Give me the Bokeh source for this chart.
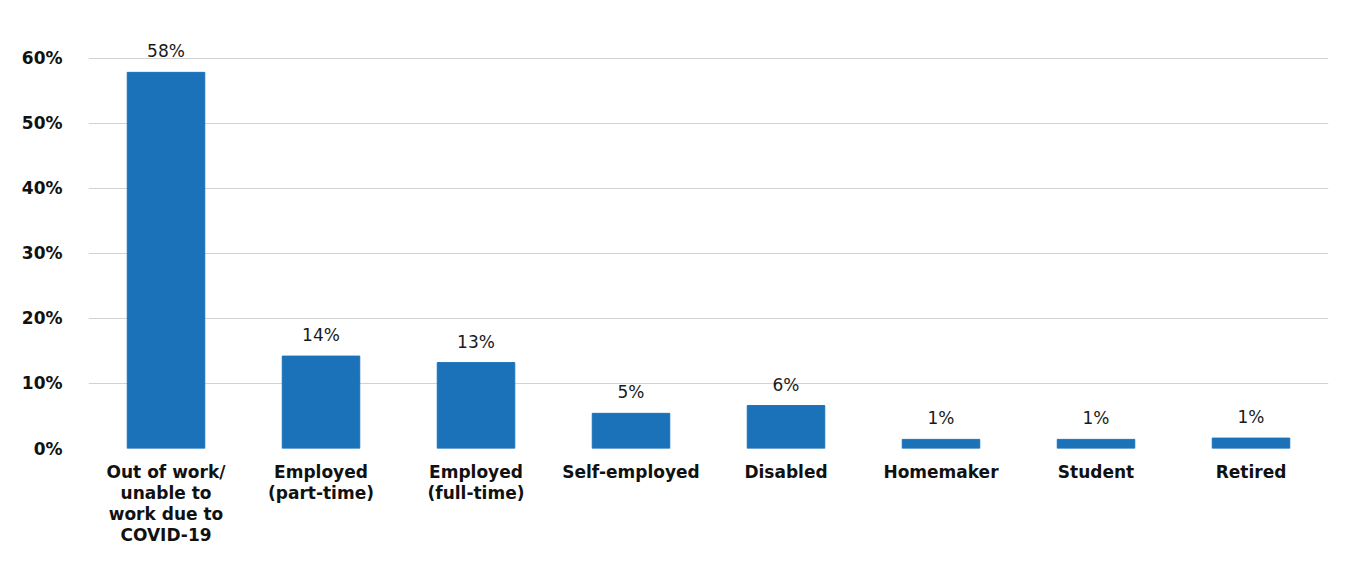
from bokeh.plotting import figure
from bokeh.models import ColumnDataSource, FixedTicker, Range1d
from bokeh.core.properties import value
from bokeh.embed import file_html
from bokeh.resources import INLINE

categories = ["Out of work/\nunable to\nwork due to\nCOVID-19", "Employed\n(part-time)",
              "Employed\n(full-time)", "Self-employed", "Disabled", "Homemaker",
              "Student", "Retired"]
values = [57.8, 14.2, 13.2, 5.4, 6.6, 1.4, 1.4, 1.6]
value_labels = ["58%", "14%", "13%", "5%", "6%", "1%", "1%", "1%"]
y_ticks = [0, 10, 20, 30, 40, 50, 60]

xs = list(range(1, len(categories) + 1))
src = ColumnDataSource(dict(x=xs, top=values, lab=value_labels))

p = figure(width=1343, height=552, output_backend="svg", toolbar_location=None,
           x_range=Range1d(0.5, len(categories) + 0.5), y_range=Range1d(0, 65),
           min_border_left=88, min_border_right=15, min_border_top=25, min_border_bottom=104)
p.background_fill_color = "white"
p.border_fill_color = "white"
p.outline_line_color = None

p.vbar(x="x", top="top", width=0.5, bottom=0, source=src, color="#1b72b9")
p.text(x="x", y="top", text="lab", source=src, text_align="center", text_baseline="bottom",
       y_offset=-11, text_font_size="17px", text_color="#1a1a1a",
       text_font=value("DejaVu Sans"))

FONT = "DejaVu Sans"
p.xaxis.ticker = FixedTicker(ticks=xs)
p.xaxis.major_label_overrides = {i + 1: c for i, c in enumerate(categories)}
p.xaxis.axis_line_color = None
p.xaxis.major_tick_line_color = None
p.xaxis.minor_tick_line_color = None
p.xaxis.major_label_text_font = FONT
p.xaxis.major_label_text_font_style = "bold"
p.xaxis.major_label_text_font_size = "17px"
p.xaxis.major_label_text_color = "#111111"
p.xaxis.major_label_text_line_height = 1.06
p.xaxis.major_label_standoff = 7

p.yaxis.ticker = FixedTicker(ticks=y_ticks)
p.yaxis.major_label_overrides = {t: f"{t}%" for t in y_ticks}
p.yaxis.axis_line_color = None
p.yaxis.major_tick_line_color = None
p.yaxis.minor_tick_line_color = None
p.yaxis.major_label_text_font = FONT
p.yaxis.major_label_text_font_style = "bold"
p.yaxis.major_label_text_font_size = "17px"
p.yaxis.major_label_text_color = "#111111"
p.yaxis.major_label_standoff = 20

p.xgrid.grid_line_color = None
p.ygrid.grid_line_color = "#d2d2d2"
p.ygrid.grid_line_width = 1

open("out.html", "w").write(file_html(p, INLINE))
